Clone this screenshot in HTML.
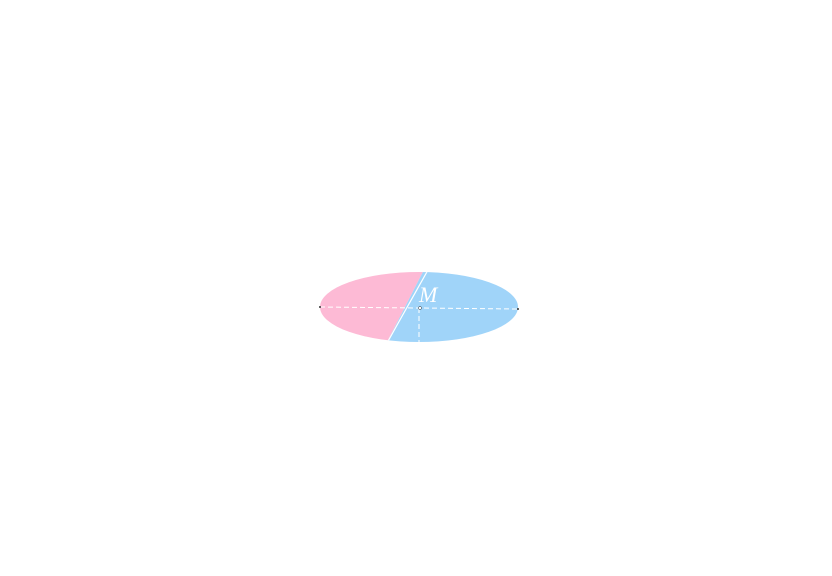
<!DOCTYPE html>
<html><head><style>html,body{margin:0;padding:0;background:#fff;}</style></head>
<body>
<svg width="832" height="571" xmlns="http://www.w3.org/2000/svg">
<defs><clipPath id="c"><ellipse cx="419" cy="307" rx="99" ry="35"/></clipPath></defs>
<g clip-path="url(#c)">
<polygon points="300,260 429,260 383,350 300,350" fill="#fdbad5"/>
<polygon points="429,260 540,260 540,350 383,350" fill="#a0d4f9"/>
<line x1="428" y1="270" x2="387" y2="343" stroke="#fff" stroke-width="1.2"/>
</g>
<line x1="320" y1="307" x2="518" y2="309" stroke="#fff" stroke-width="1" stroke-dasharray="5,3"/>
<line x1="419" y1="308" x2="419" y2="342" stroke="#fff" stroke-width="1" stroke-dasharray="5,3"/>
<circle cx="320" cy="307" r="1" fill="#333"/>
<circle cx="518" cy="309" r="1" fill="#333"/>
<circle cx="420" cy="308" r="1.5" fill="#fff" stroke="#333" stroke-width="0.5"/>
<text x="419" y="302" font-family="Liberation Serif, serif" font-style="italic" font-size="22" fill="#fff">M</text>
</svg>
</body></html>
